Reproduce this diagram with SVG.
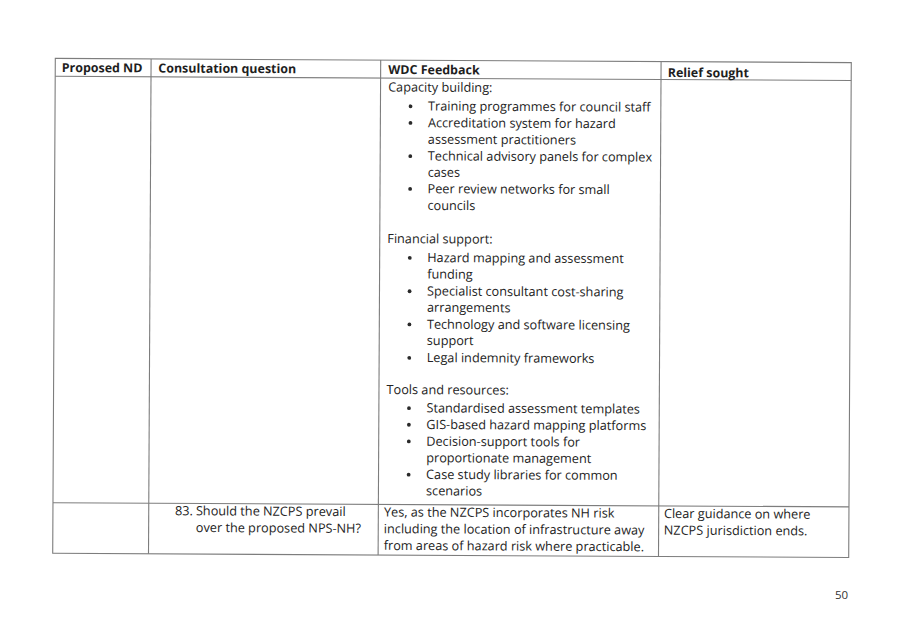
<svg xmlns="http://www.w3.org/2000/svg" width="907" height="626" viewBox="0 0 907 626">
<style>
.grid{stroke:#7d7d7d;stroke-width:1.1;fill:none}
.t{font-family:"Open Sans","Noto Sans","Liberation Sans",sans-serif;font-size:12.7px;fill:#232323}
.h{font-family:"Open Sans","Noto Sans","Liberation Sans",sans-serif;font-size:12.45px;font-weight:bold;fill:#1e1e1e}
.b{fill:#2a2a2a}
.pn{font-family:"Open Sans","Noto Sans","Liberation Sans",sans-serif;font-size:11.5px;fill:#333}
</style>
<rect width="907" height="626" fill="#ffffff"/>
<g id="table" transform="rotate(0.3 453 308)">
  <g id="grid" class="grid">
    <rect x="54" y="60.5" width="796" height="494.9"/>
    <line x1="54" y1="78.4" x2="850" y2="78.4"/>
    <line x1="54" y1="504.8" x2="850" y2="504.8"/>
    <line x1="149.8" y1="60.5" x2="149.8" y2="555.4"/>
    <line x1="379.4" y1="60.5" x2="379.4" y2="555.4"/>
    <line x1="659.8" y1="60.5" x2="659.8" y2="555.4"/>
  </g>
  <g id="header">
    <text class="h" x="60.5" y="74">Proposed ND</text>
    <text class="h" x="157.1" y="74">Consultation question</text>
    <text class="h" x="387.1" y="74.3">WDC Feedback</text>
    <text class="h" x="666.5" y="75.8">Relief sought</text>
  </g>
  <g id="row1-feedback">
    <text class="t" x="387" y="91.8">Capacity building:</text>
    <text class="t" x="427" y="110.6">Training programmes for council staff</text>
    <text class="t" x="427" y="127.3">Accreditation system for hazard</text>
    <text class="t" x="427" y="143.8">assessment practitioners</text>
    <text class="t" x="427" y="160.5">Technical advisory panels for complex</text>
    <text class="t" x="427" y="176.8">cases</text>
    <text class="t" x="427" y="193.3">Peer review networks for small</text>
    <text class="t" x="427" y="210">councils</text>
    <text class="t" x="387" y="243.4">Financial support:</text>
    <text class="t" x="427" y="262.2">Hazard mapping and assessment</text>
    <text class="t" x="427" y="278.7">funding</text>
    <text class="t" x="427" y="295.6">Specialist consultant cost-sharing</text>
    <text class="t" x="427" y="311.9">arrangements</text>
    <text class="t" x="427" y="328.8">Technology and software licensing</text>
    <text class="t" x="427" y="345">support</text>
    <text class="t" x="427" y="362.2">Legal indemnity frameworks</text>
    <text class="t" x="387" y="394.3">Tools and resources:</text>
    <text class="t" x="427" y="412.5">Standardised assessment templates</text>
    <text class="t" x="427" y="429.1">GIS-based hazard mapping platforms</text>
    <text class="t" x="427" y="445.8">Decision-support tools for</text>
    <text class="t" x="427" y="462.3">proportionate management</text>
    <text class="t" x="427" y="479">Case study libraries for common</text>
    <text class="t" x="427" y="495.4">scenarios</text>
    <g class="b">
      <circle cx="409.5" cy="106.5" r="1.9"/>
      <circle cx="409.5" cy="123.2" r="1.9"/>
      <circle cx="409.5" cy="156.4" r="1.9"/>
      <circle cx="409.5" cy="189.2" r="1.9"/>
      <circle cx="409.5" cy="258.1" r="1.9"/>
      <circle cx="409.5" cy="291.5" r="1.9"/>
      <circle cx="409.5" cy="324.7" r="1.9"/>
      <circle cx="409.5" cy="358.1" r="1.9"/>
      <circle cx="409.5" cy="408.4" r="1.9"/>
      <circle cx="409.5" cy="425" r="1.9"/>
      <circle cx="409.5" cy="441.7" r="1.9"/>
      <circle cx="409.5" cy="474.9" r="1.9"/>
    </g>
  </g>
  <g id="row2-question">
    <text class="t" x="176.1" y="516.6">83.</text>
    <text class="t" x="197" y="516.6">Should the NZCPS prevail</text>
    <text class="t" x="197" y="533.3">over the proposed NPS-NH?</text>
  </g>
  <g id="row2-feedback">
    <text class="t" x="385" y="516.8">Yes, as the NZCPS incorporates NH risk</text>
    <text class="t" x="385" y="533.5">including the location of infrastructure away</text>
    <text class="t" x="385" y="550.2">from areas of hazard risk where practicable.</text>
  </g>
  <g id="row2-relief">
    <text class="t" x="665" y="516.8">Clear guidance on where</text>
    <text class="t" x="665" y="533.5">NZCPS jurisdiction ends.</text>
  </g>
</g>
<text id="page-number" class="pn" x="835" y="599.3">50</text>
</svg>
